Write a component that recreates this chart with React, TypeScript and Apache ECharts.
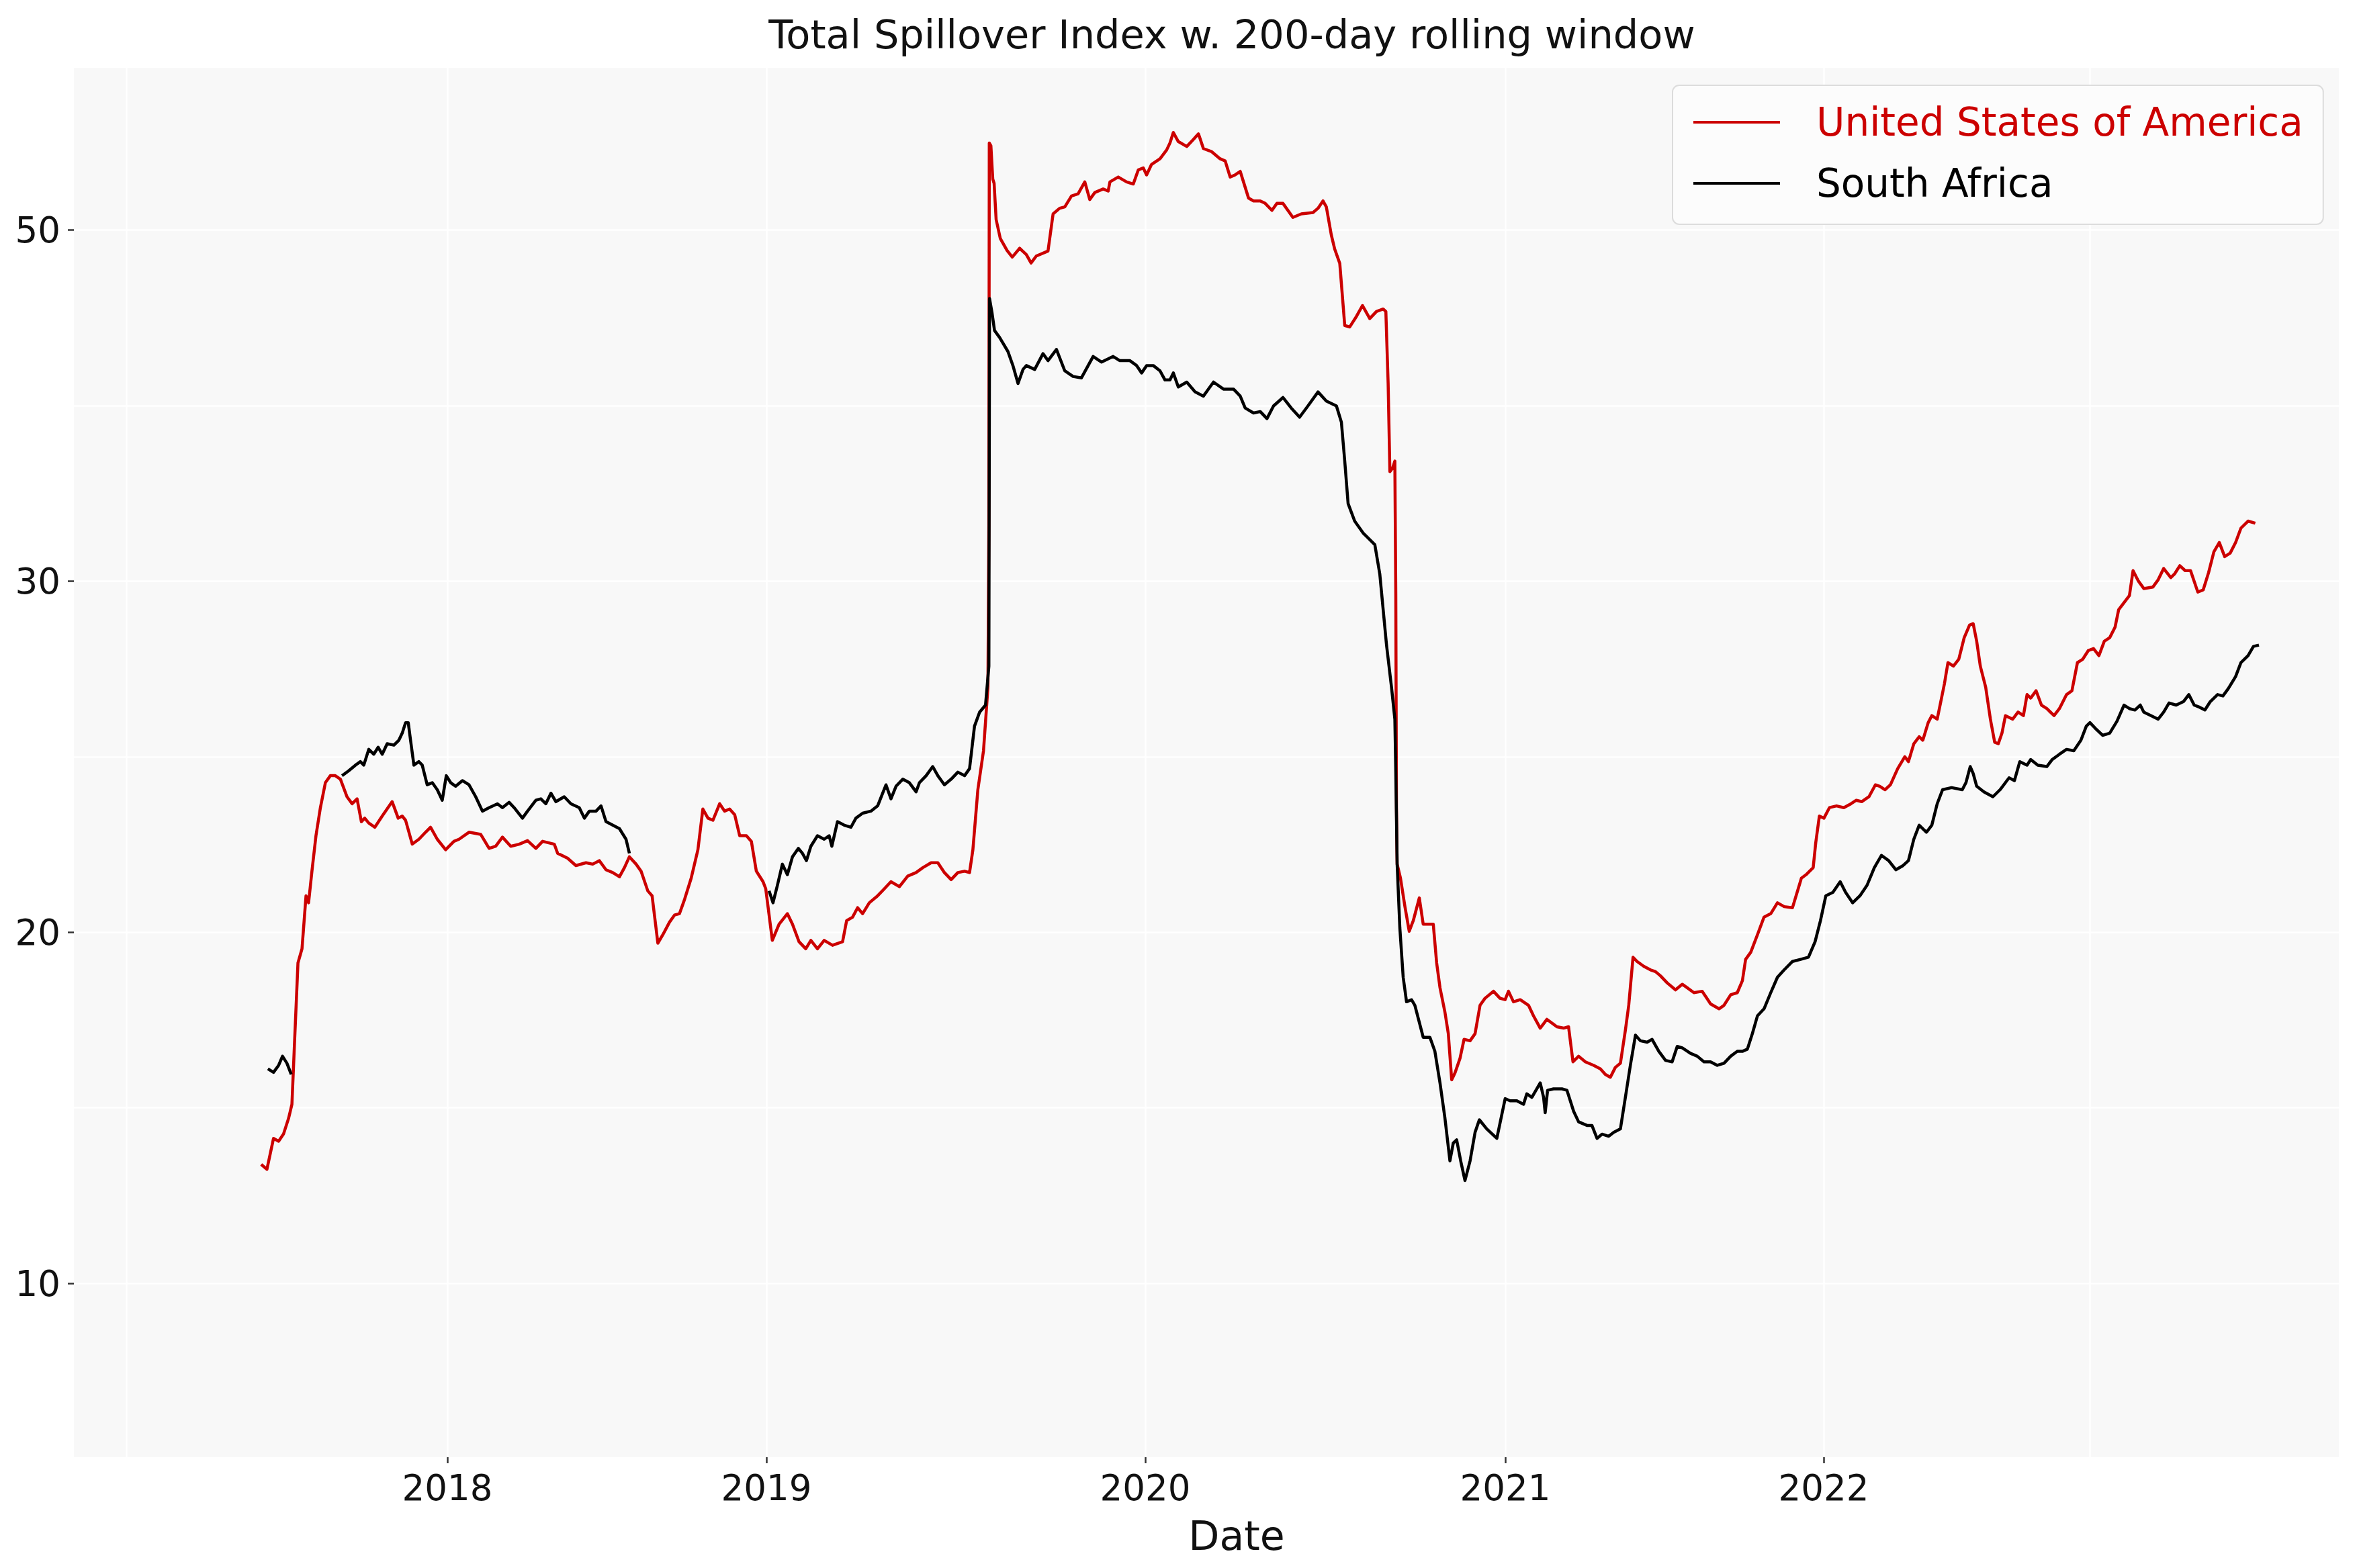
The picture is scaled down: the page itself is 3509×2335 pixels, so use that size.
import React, { useEffect, useRef } from 'react';
import * as echarts from 'echarts';

// x = trading-day index along the sample, y = total spillover index
const usaPoints = [
  [139.4,13.39],[143.7,13.25],[148.6,14.13],[152.4,14.05],[156.1,14.26],[159.8,14.70],[162.3,15.10],[164.3,16.91],
  [166.8,19.13],[169.8,19.53],[172.8,21.04],[174.7,20.84],[177.2,21.74],[180.2,22.75],[183.5,23.55],[187.2,24.26],
  [190.9,24.46],[194.6,24.46],[198.4,24.36],[203.3,23.86],[207.1,23.66],[210.8,23.80],[214.0,23.15],[216.5,23.25],
  [219.5,23.11],[224.0,22.99],[229.5,23.31],[236.9,23.72],[241.4,23.25],[244.4,23.31],[246.9,23.19],[251.9,22.51],
  [256.8,22.65],[261.8,22.85],[265.5,22.99],[270.5,22.65],[276.7,22.35],[282.9,22.59],[286.7,22.65],[294.1,22.85],
  [302.8,22.79],[309.1,22.39],[314.0,22.45],[319.0,22.71],[325.2,22.45],[331.5,22.51],[337.7,22.61],[343.9,22.39],
  [348.9,22.59],[357.6,22.51],[360.1,22.25],[367.5,22.11],[373.7,21.90],[381.2,21.98],[386.2,21.94],[391.1,22.04],
  [396.1,21.78],[401.1,21.70],[406.1,21.58],[409.8,21.84],[413.5,22.15],[418.5,21.94],[422.2,21.74],[427.2,21.18],
  [430.4,21.04],[434.7,19.69],[438.4,19.93],[443.4,20.29],[447.1,20.49],[450.8,20.53],[454.6,20.94],[459.5,21.54],
  [464.5,22.35],[468.2,23.51],[472.0,23.25],[475.7,23.19],[480.7,23.66],[484.4,23.45],[488.1,23.51],[491.9,23.35],
  [495.6,22.75],[500.6,22.75],[504.3,22.59],[508.0,21.74],[513.0,21.44],[515.0,21.24],[519.9,19.77],[524.9,20.23],
  [531.1,20.53],[534.9,20.23],[539.8,19.73],[544.8,19.53],[548.6,19.77],[553.5,19.53],[558.5,19.77],[564.7,19.63],
  [572.2,19.73],[575.2,20.33],[579.6,20.43],[583.4,20.70],[587.1,20.53],[592.1,20.84],[598.3,21.04],[603.3,21.24],
  [608.2,21.44],[614.5,21.30],[620.7,21.60],[626.9,21.70],[631.9,21.84],[638.1,21.98],[643.1,21.98],[648.0,21.70],
  [653.0,21.50],[658.0,21.70],[663.0,21.74],[666.7,21.70],[669.2,22.35],[672.9,24.06],[677.1,25.17],[680.4,26.98],
  [681.1,31.61],[681.4,42.48],[682.6,42.40],[684.0,41.45],[685.0,41.33],[686.5,40.30],[689.6,39.76],[694.6,39.42],
  [698.5,39.23],[704.0,39.48],[709.0,39.30],[712.5,39.06],[716.4,39.26],[725.1,39.40],[728.9,40.46],[733.8,40.62],
  [737.6,40.66],[742.6,40.97],[747.5,41.03],[752.5,41.37],[756.2,40.87],[760.0,41.07],[766.2,41.17],[769.9,41.11],
  [771.2,41.37],[777.4,41.51],[783.6,41.37],[788.6,41.31],[792.3,41.71],[796.0,41.77],[798.5,41.57],[802.2,41.87],
  [808.5,42.03],[813.4,42.28],[815.9,42.48],[818.4,42.78],[822.1,42.52],[828.4,42.38],[833.3,42.58],[837.1,42.74],
  [840.8,42.32],[847.0,42.23],[853.2,42.03],[857.0,41.97],[860.7,41.51],[864.4,41.57],[868.2,41.67],[874.4,40.91],
  [878.1,40.83],[883.1,40.83],[886.8,40.76],[891.8,40.56],[895.5,40.76],[900.0,40.76],[907.4,40.36],[913.7,40.46],
  [922.4,40.50],[926.1,40.62],[929.8,40.83],[932.3,40.66],[936.0,39.86],[938.5,39.46],[942.3,39.05],[946.0,37.28],
  [949.7,37.24],[954.7,37.54],[959.2,37.85],[964.6,37.48],[969.6,37.68],[974.6,37.75],[976.6,37.68],[978.3,35.63],
  [979.6,33.12],[981.6,33.22],[983.3,33.42],[984.0,29.59],[984.5,23.55],[985.0,21.94],[987.5,21.54],[990.8,20.73],
  [994.0,20.03],[997.0,20.33],[1001.5,20.98],[1004.4,20.23],[1008.9,20.23],[1011.9,20.23],[1014.4,19.13],[1016.9,18.42],
  [1020.6,17.72],[1023.1,17.11],[1025.6,15.80],[1028.1,16.00],[1031.8,16.41],[1034.8,16.95],[1039.3,16.91],[1043.0,17.11],
  [1046.7,17.92],[1050.4,18.12],[1056.7,18.32],[1061.6,18.12],[1065.4,18.08],[1067.9,18.32],[1071.6,18.02],[1076.6,18.08],
  [1082.8,17.92],[1086.5,17.62],[1091.5,17.27],[1096.5,17.52],[1103.9,17.31],[1108.9,17.27],[1112.6,17.31],[1115.9,16.31],
  [1120.1,16.47],[1125.1,16.31],[1131.3,16.21],[1136.3,16.11],[1140.0,15.95],[1143.7,15.87],[1147.4,16.15],[1151.2,16.27],
  [1154.9,17.21],[1157.4,17.92],[1160.6,19.29],[1163.6,19.17],[1168.6,19.03],[1173.6,18.93],[1177.3,18.88],[1181.0,18.76],
  [1186.0,18.56],[1192.2,18.36],[1197.2,18.52],[1200.9,18.42],[1205.9,18.28],[1212.1,18.32],[1218.3,17.96],[1224.6,17.82],
  [1228.3,17.92],[1233.3,18.22],[1238.2,18.28],[1242.0,18.62],[1244.4,19.23],[1248.2,19.43],[1253.2,19.93],[1258.1,20.43],
  [1263.1,20.53],[1268.1,20.84],[1273.1,20.73],[1279.3,20.70],[1285.9,21.54],[1289.4,21.64],[1292.0,21.74],[1294.7,21.84],
  [1296.6,22.55],[1299.3,23.31],[1302.7,23.25],[1306.8,23.55],[1312.1,23.60],[1317.5,23.55],[1322.8,23.66],[1326.8,23.76],
  [1330.8,23.72],[1336.2,23.86],[1341.0,24.20],[1344.2,24.16],[1348.2,24.06],[1352.2,24.20],[1357.6,24.66],[1362.9,25.00],
  [1365.6,24.86],[1369.6,25.37],[1373.6,25.57],[1376.3,25.47],[1380.3,25.97],[1383.0,26.17],[1387.0,26.07],[1389.7,26.57],
  [1392.4,27.08],[1395.0,27.68],[1399.1,27.58],[1403.1,27.78],[1407.1,28.39],[1411.1,28.75],[1413.8,28.79],[1416.4,28.29],
  [1419.1,27.58],[1423.1,26.98],[1426.6,26.07],[1429.8,25.41],[1432.5,25.37],[1435.2,25.67],[1437.8,26.17],[1443.2,26.07],
  [1447.2,26.27],[1451.2,26.17],[1453.9,26.77],[1456.6,26.67],[1460.6,26.88],[1464.6,26.47],[1468.6,26.37],[1474.0,26.17],
  [1478.0,26.37],[1483.3,26.77],[1487.3,26.88],[1491.4,27.68],[1495.4,27.78],[1499.4,28.02],[1503.4,28.08],[1507.4,27.88],
  [1511.4,28.29],[1515.4,28.39],[1519.4,28.69],[1522.1,29.19],[1526.1,29.39],[1530.1,29.59],[1532.8,30.30],[1536.8,30.00],
  [1540.8,29.79],[1547.5,29.83],[1551.5,30.04],[1555.6,30.36],[1560.9,30.10],[1563.6,30.20],[1567.6,30.44],[1571.6,30.30],
  [1575.6,30.30],[1581.0,29.69],[1585.0,29.75],[1589.0,30.24],[1593.0,30.84],[1597.0,31.10],[1601.0,30.70],[1605.1,30.80],
  [1609.1,31.10],[1613.1,31.51],[1618.4,31.71],[1623.8,31.65],
];

// null values mark the periods without South African observations
const zafPoints = [
  [144.4,16.11],[148.6,16.01],[152.4,16.21],[155.3,16.47],[158.6,16.27],[161.8,15.95],[180.0,null],
  [199.6,24.46],[204.6,24.60],[209.6,24.76],[213.3,24.86],[215.8,24.76],[219.5,25.21],[223.2,25.07],[226.5,25.27],
  [229.5,25.07],[233.2,25.37],[238.2,25.33],[241.9,25.47],[244.4,25.67],[246.9,25.97],[248.9,25.97],[250.6,25.47],
  [253.1,24.76],[256.8,24.86],[259.3,24.76],[263.0,24.20],[266.8,24.26],[270.5,24.06],[274.2,23.76],[277.2,24.46],
  [280.5,24.26],[284.2,24.16],[289.2,24.32],[294.1,24.20],[299.1,23.86],[304.1,23.45],[309.1,23.55],[315.3,23.66],
  [319.0,23.55],[324.0,23.70],[327.7,23.55],[333.9,23.25],[337.7,23.45],[343.9,23.76],[347.6,23.80],[351.3,23.66],
  [355.1,23.96],[358.8,23.72],[365.0,23.86],[370.0,23.66],[376.2,23.55],[380.0,23.25],[383.7,23.45],[388.7,23.45],
  [392.4,23.60],[396.1,23.15],[401.1,23.05],[406.1,22.95],[411.0,22.65],[413.5,22.25],[465.0,null],
  [517.5,21.18],[520.4,20.84],[523.7,21.34],[527.4,21.94],[531.1,21.64],[534.9,22.15],[539.3,22.39],[542.3,22.25],
  [545.3,22.04],[548.6,22.45],[553.5,22.75],[558.5,22.65],[562.2,22.75],[564.2,22.45],[568.4,23.15],[573.4,23.05],
  [578.4,22.99],[582.1,23.25],[587.1,23.39],[593.3,23.45],[598.3,23.60],[604.5,24.20],[608.2,23.80],[612.0,24.16],
  [617.0,24.36],[621.9,24.26],[626.9,24.00],[629.4,24.26],[634.4,24.46],[639.3,24.72],[643.1,24.46],[648.0,24.20],
  [653.0,24.36],[658.0,24.56],[663.0,24.46],[666.7,24.66],[670.4,25.87],[674.2,26.27],[678.6,26.47],[681.1,27.58],
  [681.6,38.05],[683.4,37.65],[685.3,37.14],[689.1,36.94],[695.3,36.54],[699.0,36.14],[702.8,35.63],[706.5,36.03],
  [709.0,36.14],[715.2,36.03],[721.4,36.48],[725.1,36.28],[731.4,36.60],[737.6,35.99],[743.8,35.83],[750.0,35.79],
  [755.0,36.14],[758.7,36.40],[764.9,36.24],[773.6,36.40],[778.6,36.28],[786.1,36.28],[791.1,36.14],[794.8,35.93],
  [798.5,36.14],[803.5,36.14],[808.5,35.99],[812.2,35.73],[815.9,35.73],[818.4,35.93],[822.1,35.53],[828.4,35.67],
  [834.6,35.39],[840.8,35.27],[844.5,35.47],[848.3,35.67],[855.7,35.47],[863.2,35.47],[868.2,35.27],[871.9,34.93],
  [878.1,34.79],[883.1,34.83],[888.1,34.63],[893.0,34.99],[900.0,35.23],[906.2,34.93],[912.4,34.67],[918.6,34.99],
  [926.1,35.39],[932.3,35.13],[939.8,34.99],[943.5,34.53],[946.0,33.42],[948.5,32.21],[953.4,31.71],[959.7,31.37],
  [968.4,31.04],[972.1,30.20],[977.1,28.18],[980.8,26.98],[983.3,26.07],[984.0,24.56],[985.0,21.94],[987.0,20.13],
  [989.5,18.72],[992.0,18.02],[995.7,18.08],[998.2,17.92],[1004.4,17.01],[1009.4,17.01],[1013.1,16.61],[1016.9,15.71],
  [1020.6,14.70],[1024.3,13.49],[1026.8,14.00],[1029.3,14.09],[1032.3,13.49],[1035.5,12.93],[1039.3,13.49],[1043.0,14.30],
  [1046.2,14.66],[1051.7,14.40],[1059.2,14.13],[1065.4,15.26],[1069.1,15.20],[1074.1,15.20],[1079.1,15.10],[1081.5,15.40],
  [1085.3,15.30],[1091.5,15.71],[1094.0,15.30],[1095.2,14.86],[1097.0,15.50],[1101.4,15.54],[1107.7,15.54],[1111.4,15.50],
  [1116.4,14.90],[1120.1,14.60],[1126.3,14.50],[1130.0,14.50],[1133.8,14.13],[1137.5,14.25],[1142.5,14.19],[1146.2,14.30],
  [1151.2,14.40],[1154.9,15.30],[1158.6,16.21],[1162.4,17.07],[1166.1,16.91],[1171.1,16.87],[1174.8,16.95],[1179.8,16.61],
  [1184.8,16.35],[1189.7,16.31],[1193.5,16.75],[1197.2,16.71],[1203.4,16.55],[1208.4,16.47],[1213.4,16.31],[1218.3,16.31],
  [1223.3,16.21],[1228.3,16.27],[1233.3,16.47],[1238.2,16.61],[1242.0,16.61],[1245.7,16.67],[1249.4,17.11],[1253.2,17.62],
  [1258.1,17.82],[1263.1,18.28],[1268.1,18.72],[1273.1,18.93],[1279.3,19.17],[1285.4,19.23],[1291.2,19.29],[1296.1,19.73],
  [1300.1,20.33],[1304.1,21.04],[1309.4,21.14],[1314.8,21.44],[1318.8,21.14],[1324.1,20.84],[1329.5,21.04],[1334.8,21.34],
  [1340.2,21.84],[1345.5,22.19],[1350.9,22.04],[1356.2,21.78],[1361.6,21.90],[1365.6,22.04],[1369.6,22.65],[1373.6,23.05],
  [1379.0,22.85],[1383.0,23.05],[1387.0,23.66],[1391.0,24.06],[1397.7,24.12],[1405.7,24.06],[1408.4,24.26],[1411.6,24.72],
  [1413.8,24.52],[1416.4,24.16],[1421.8,24.00],[1428.5,23.86],[1433.8,24.06],[1440.5,24.40],[1444.5,24.32],[1448.5,24.86],
  [1453.9,24.76],[1456.6,24.92],[1461.9,24.76],[1468.6,24.72],[1472.6,24.92],[1478.0,25.07],[1483.3,25.21],[1488.7,25.17],
  [1494.0,25.47],[1498.0,25.87],[1500.7,25.97],[1504.7,25.81],[1510.1,25.61],[1515.4,25.67],[1520.8,26.01],[1526.1,26.47],
  [1530.1,26.37],[1534.2,26.33],[1538.2,26.47],[1540.8,26.27],[1546.2,26.17],[1551.5,26.07],[1555.6,26.27],[1559.6,26.53],
  [1564.9,26.47],[1570.3,26.57],[1574.3,26.77],[1578.3,26.47],[1582.3,26.41],[1586.3,26.33],[1590.3,26.57],[1595.7,26.77],
  [1599.7,26.73],[1603.7,26.94],[1609.1,27.28],[1613.1,27.68],[1618.4,27.88],[1622.4,28.14],[1626.5,28.18],
];

const seriesNames = ['United States of America', 'South Africa'];
const xTickValues = [278, 515.5, 797.5, 1065.5, 1302.5];
const xTickLabels = ['2018', '2019', '2020', '2021', '2022'];
const xGridValues = [39, 278, 515.5, 797.5, 1065.5, 1302.5, 1500.7];
const yTickValues = [10, 20, 30, 40];
const yTickLabels = ['10', '20', '30', '50'];
const yGridValues = [10, 15, 20, 25, 30, 35, 40];
const xRange = [0, 1686];
const yRange = [5.05, 44.62];

const FONT = 'DejaVu Sans';
const RED = '#cc0000';

function nearestLabel(values: number[], labels: string[], v: number) {
  let best = 0;
  for (let i = 1; i < values.length; i++) {
    if (Math.abs(values[i] - v) < Math.abs(values[best] - v)) best = i;
  }
  return labels[best];
}

export default function App() {
  const ref = useRef<HTMLDivElement>(null);
  useEffect(() => {
    if (!ref.current) return;
    const chart = echarts.init(ref.current, null, { renderer: 'svg' });
    const tickStyle = { show: true, length: 9, lineStyle: { color: '#333333', width: 2.5 } };
    const gridLine = { show: true, lineStyle: { color: '#ffffff', width: 2.5 } };
    chart.setOption({
      animation: false,
      backgroundColor: '#ffffff',
      title: {
        text: 'Total Spillover Index w. 200-day rolling window',
        left: 1834,
        textAlign: 'center',
        top: 22,
        padding: 0,
        textStyle: { fontFamily: FONT, fontSize: 59, fontWeight: 'normal', color: '#111111', lineHeight: 59 },
      },
      legend: {
        orient: 'vertical',
        left: 2490,
        top: 127,
        padding: [26, 30, 32, 31],
        itemGap: 33,
        itemWidth: 129,
        itemHeight: 4,
        icon: 'rect',
        backgroundColor: '#fcfcfc',
        borderColor: '#dcdcdc',
        borderWidth: 2,
        borderRadius: 10,
        textStyle: { fontFamily: FONT, fontSize: 58, lineHeight: 58, padding: [0, 0, 0, 49] },
        data: [
          { name: seriesNames[0], textStyle: { color: RED } },
          { name: seriesNames[1], textStyle: { color: '#000000' } },
        ],
      },
      grid: {
        left: 110,
        top: 101,
        right: 27,
        bottom: 165,
        show: true,
        backgroundColor: '#f8f8f8',
        borderWidth: 0,
      },
      xAxis: [
        {
          type: 'value',
          position: 'bottom',
          min: xRange[0],
          max: xRange[1],
          axisLine: { show: false },
          axisTick: { ...tickStyle, customValues: xTickValues },
          axisLabel: {
            show: true,
            customValues: xTickValues,
            margin: 19,
            fontFamily: FONT,
            fontSize: 53,
            color: '#111111',
            formatter: (v: number) => nearestLabel(xTickValues, xTickLabels, v),
          },
          splitLine: { show: false },
          name: 'Date',
          nameLocation: 'middle',
          nameGap: 87,
          nameTextStyle: { fontFamily: FONT, fontSize: 60, color: '#111111', padding: [0, 0, 0, 90] },
        },
        {
          type: 'value',
          min: xRange[0],
          max: xRange[1],
          axisLine: { show: false },
          axisTick: { show: false, customValues: xGridValues },
          axisLabel: { show: false },
          splitLine: gridLine,
        },
      ],
      yAxis: [
        {
          type: 'value',
          position: 'left',
          min: yRange[0],
          max: yRange[1],
          axisLine: { show: false },
          axisTick: { ...tickStyle, customValues: yTickValues },
          axisLabel: {
            show: true,
            customValues: yTickValues,
            margin: 20,
            fontFamily: FONT,
            fontSize: 53,
            color: '#111111',
            formatter: (v: number) => nearestLabel(yTickValues, yTickLabels, v),
          },
          splitLine: { show: false },
        },
        {
          type: 'value',
          min: yRange[0],
          max: yRange[1],
          axisLine: { show: false },
          axisTick: { show: false, customValues: yGridValues },
          axisLabel: { show: false },
          splitLine: gridLine,
        },
      ],
      series: [
        {
          name: seriesNames[0],
          type: 'line',
          xAxisIndex: 0,
          yAxisIndex: 0,
          data: usaPoints,
          showSymbol: false,
          symbol: 'none',
          connectNulls: false,
          lineStyle: { color: RED, width: 4.5, join: 'round' },
          itemStyle: { color: RED },
          z: 3,
        },
        {
          name: seriesNames[1],
          type: 'line',
          xAxisIndex: 0,
          yAxisIndex: 0,
          data: zafPoints,
          showSymbol: false,
          symbol: 'none',
          connectNulls: false,
          lineStyle: { color: '#000000', width: 4.5, join: 'round' },
          itemStyle: { color: '#000000' },
          z: 4,
        },
      ],
    });
    return () => chart.dispose();
  }, []);
  return (
    <div
      ref={ref}
      style={{ position: 'fixed', left: 0, top: 0, width: 3509, height: 2335, background: '#ffffff' }}
    />
  );
}
